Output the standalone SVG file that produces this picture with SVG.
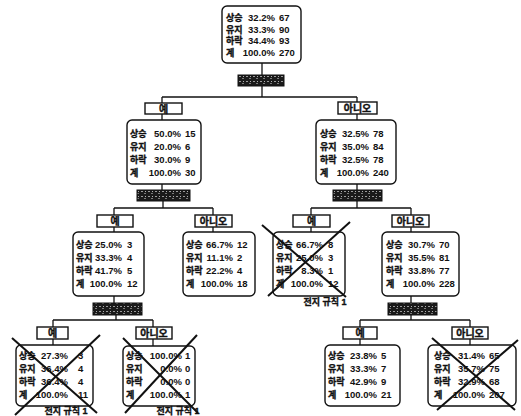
<svg xmlns="http://www.w3.org/2000/svg" width="521" height="416" viewBox="0 0 521 416">
  <defs>
    <!-- speckled fill for the split-rule bars -->
    <pattern id="speck" width="7" height="5" patternUnits="userSpaceOnUse">
      <rect width="7" height="5" fill="#1a1a1a"/>
      <rect x="1" y="1" width="2" height="1" fill="#9a9a9a"/>
      <rect x="4" y="3" width="2" height="1" fill="#7a7a7a"/>
      <rect x="5" y="1" width="1" height="1" fill="#b0b0b0"/>
    </pattern>
  </defs>
  <style>
    .node { fill: #fff; stroke: #111; stroke-width: 1.4; }
    .lbl { fill: #fff; stroke: #111; stroke-width: 1.4; }
    .bar { fill: url(#speck); stroke: #111; stroke-width: 1; }
    .t { font-family: "Liberation Sans", "Noto Sans CJK KR", sans-serif; font-weight: bold; fill: #111; }
    .n { font-size: 9.5px; }
    .k { font-size: 9px; stroke: #111; stroke-width: 0.35; }
    .b { font-size: 10px; text-anchor: middle; stroke: #111; stroke-width: 0.35; }
    .p { text-anchor: end; }
    .c { text-anchor: middle; }
    .conn line { stroke: #111; stroke-width: 1.3; }
    .x { stroke: #111; stroke-width: 2; }
  </style>
  <rect width="521" height="416" fill="#fff"/>

  <!-- connectors -->
  <g id="connectors" class="conn">
    <line x1="262" y1="63" x2="262" y2="75"/>
    <line x1="262" y1="86" x2="262" y2="97"/>
    <line x1="162" y1="97" x2="357" y2="97"/>
    <line x1="162" y1="97" x2="162" y2="103"/>
    <line x1="357" y1="97" x2="357" y2="102"/>
    <line x1="162" y1="114" x2="162" y2="120"/>
    <line x1="357" y1="114" x2="357" y2="120"/>
    <line x1="162" y1="184" x2="162" y2="190"/>
    <line x1="357" y1="184" x2="357" y2="190"/>
    <line x1="163" y1="201" x2="163" y2="208"/>
    <line x1="357" y1="201" x2="357" y2="208"/>
    <line x1="114" y1="208" x2="213" y2="208"/>
    <line x1="311" y1="208" x2="411" y2="208"/>
    <line x1="114" y1="208" x2="114" y2="215"/>
    <line x1="213" y1="208" x2="213" y2="215"/>
    <line x1="311" y1="208" x2="311" y2="215"/>
    <line x1="411" y1="208" x2="411" y2="215"/>
    <line x1="114" y1="227" x2="114" y2="232"/>
    <line x1="213" y1="227" x2="213" y2="232"/>
    <line x1="311" y1="227" x2="311" y2="232"/>
    <line x1="411" y1="227" x2="411" y2="232"/>
    <line x1="114" y1="296" x2="114" y2="303"/>
    <line x1="411" y1="296" x2="411" y2="303"/>
    <line x1="116" y1="315" x2="116" y2="320"/>
    <line x1="411" y1="315" x2="411" y2="320"/>
    <line x1="53" y1="320" x2="153" y2="320"/>
    <line x1="360" y1="320" x2="470" y2="320"/>
    <line x1="53" y1="320" x2="53" y2="327"/>
    <line x1="153" y1="320" x2="153" y2="327"/>
    <line x1="360" y1="320" x2="360" y2="327"/>
    <line x1="470" y1="320" x2="470" y2="327"/>
    <line x1="53" y1="339" x2="53" y2="345"/>
    <line x1="153" y1="339" x2="153" y2="346"/>
    <line x1="360" y1="339" x2="360" y2="345"/>
    <line x1="470" y1="339" x2="470" y2="345"/>
  </g>

  <!-- split-rule bars -->
  <g id="split-root"><rect class="bar" x="238" y="75" width="46" height="11"/></g>
  <g id="split-yes"><rect class="bar" x="137" y="190" width="53" height="11"/></g>
  <g id="split-no"><rect class="bar" x="333" y="190" width="49" height="11"/></g>
  <g id="split-yes-yes"><rect class="bar" x="93" y="303" width="49" height="12"/></g>
  <g id="split-no-no"><rect class="bar" x="388" y="303" width="49" height="12"/></g>

  <!-- branch labels -->
  <g id="lbl-yes"><rect class="lbl" x="145" y="103" width="37" height="11"/><text class="t b" x="163.5" y="112.5">예</text></g>
  <g id="lbl-no"><rect class="lbl" x="338" y="102" width="39" height="12"/><text class="t b" x="357.5" y="112">아니오</text></g>
  <g id="lbl-yes-yes"><rect class="lbl" x="97" y="215" width="36" height="12"/><text class="t b" x="115" y="225">예</text></g>
  <g id="lbl-yes-no"><rect class="lbl" x="195" y="215" width="37" height="12"/><text class="t b" x="213.5" y="225">아니오</text></g>
  <g id="lbl-no-yes"><rect class="lbl" x="293" y="215" width="37" height="12"/><text class="t b" x="311.5" y="225">예</text></g>
  <g id="lbl-no-no"><rect class="lbl" x="392" y="215" width="37" height="12"/><text class="t b" x="410.5" y="225">아니오</text></g>
  <g id="lbl-yy-yes"><rect class="lbl" x="37" y="327" width="31" height="12"/><text class="t b" x="52.5" y="337">예</text></g>
  <g id="lbl-yy-no"><rect class="lbl" x="136" y="327" width="36" height="12"/><text class="t b" x="154" y="337">아니오</text></g>
  <g id="lbl-nn-yes"><rect class="lbl" x="343" y="327" width="34" height="12"/><text class="t b" x="360" y="337">예</text></g>
  <g id="lbl-nn-no"><rect class="lbl" x="452" y="327" width="36" height="12"/><text class="t b" x="470" y="337">아니오</text></g>

  <!-- root -->
  <g id="node-root">
    <rect class="node" x="222" y="6" width="79" height="57" rx="5"/>
    <text class="t k" x="226" y="21">상승</text><text class="t n p" x="275" y="21">32.2%</text><text class="t n" x="279" y="21">67</text>
    <text class="t k" x="226" y="32.5">유지</text><text class="t n p" x="275" y="32.5">33.3%</text><text class="t n" x="279" y="32.5">90</text>
    <text class="t k" x="226" y="44">하락</text><text class="t n p" x="275" y="44">34.4%</text><text class="t n" x="279" y="44">93</text>
    <text class="t k" x="226" y="56">계</text><text class="t n p" x="275" y="56">100.0%</text><text class="t n" x="279" y="56">270</text>
  </g>

  <!-- level 1 -->
  <g id="node-yes">
    <rect class="node" x="127" y="120" width="74" height="64" rx="5"/>
    <text class="t k" x="130" y="137">상승</text><text class="t n p" x="181" y="137">50.0%</text><text class="t n" x="185" y="137">15</text>
    <text class="t k" x="130" y="150">유지</text><text class="t n p" x="181" y="150">20.0%</text><text class="t n" x="185" y="150">6</text>
    <text class="t k" x="130" y="163">하락</text><text class="t n p" x="181" y="163">30.0%</text><text class="t n" x="185" y="163">9</text>
    <text class="t k" x="130" y="176">계</text><text class="t n p" x="181" y="176">100.0%</text><text class="t n" x="185" y="176">30</text>
  </g>
  <g id="node-no">
    <rect class="node" x="316" y="120" width="80" height="64" rx="5"/>
    <text class="t k" x="320" y="137">상승</text><text class="t n p" x="369" y="137">32.5%</text><text class="t n" x="373" y="137">78</text>
    <text class="t k" x="320" y="150">유지</text><text class="t n p" x="369" y="150">35.0%</text><text class="t n" x="373" y="150">84</text>
    <text class="t k" x="320" y="163">하락</text><text class="t n p" x="369" y="163">32.5%</text><text class="t n" x="373" y="163">78</text>
    <text class="t k" x="320" y="176">계</text><text class="t n p" x="369" y="176">100.0%</text><text class="t n" x="373" y="176">240</text>
  </g>

  <!-- level 2 -->
  <g id="node-yes-yes">
    <rect class="node" x="73" y="232" width="71" height="64" rx="5"/>
    <text class="t k" x="76" y="248">상승</text><text class="t n p" x="122" y="248">25.0%</text><text class="t n" x="127" y="248">3</text>
    <text class="t k" x="76" y="261">유지</text><text class="t n p" x="122" y="261">33.3%</text><text class="t n" x="127" y="261">4</text>
    <text class="t k" x="76" y="274">하락</text><text class="t n p" x="122" y="274">41.7%</text><text class="t n" x="127" y="274">5</text>
    <text class="t k" x="76" y="287">계</text><text class="t n p" x="122" y="287">100.0%</text><text class="t n" x="127" y="287">12</text>
  </g>
  <g id="node-yes-no">
    <rect class="node" x="183" y="232" width="72" height="64" rx="5"/>
    <text class="t k" x="186" y="248">상승</text><text class="t n p" x="233" y="248">66.7%</text><text class="t n" x="237" y="248">12</text>
    <text class="t k" x="186" y="261">유지</text><text class="t n p" x="233" y="261">11.1%</text><text class="t n" x="237" y="261">2</text>
    <text class="t k" x="186" y="274">하락</text><text class="t n p" x="233" y="274">22.2%</text><text class="t n" x="237" y="274">4</text>
    <text class="t k" x="186" y="287">계</text><text class="t n p" x="233" y="287">100.0%</text><text class="t n" x="237" y="287">18</text>
  </g>
  <g id="node-no-yes">
    <rect class="node" x="273" y="232" width="72" height="64" rx="5"/>
    <text class="t k" x="276" y="248">상승</text><text class="t n p" x="323" y="248">66.7%</text><text class="t n" x="328" y="248">8</text>
    <text class="t k" x="276" y="261">유지</text><text class="t n p" x="323" y="261">25.0%</text><text class="t n" x="328" y="261">3</text>
    <text class="t k" x="276" y="274">하락</text><text class="t n p" x="323" y="274">8.3%</text><text class="t n" x="328" y="274">1</text>
    <text class="t k" x="276" y="287">계</text><text class="t n p" x="323" y="287">100.0%</text><text class="t n" x="328" y="287">12</text>
    <line class="x" x1="262" y1="225" x2="346" y2="297"/>
    <line class="x" x1="350" y1="222" x2="268" y2="296"/>
    <text class="t k c" x="325" y="305">전지 규칙 1</text>
  </g>
  <g id="node-no-no">
    <rect class="node" x="382" y="232" width="77" height="64" rx="5"/>
    <text class="t k" x="386" y="248">상승</text><text class="t n p" x="435" y="248">30.7%</text><text class="t n" x="439" y="248">70</text>
    <text class="t k" x="386" y="261">유지</text><text class="t n p" x="435" y="261">35.5%</text><text class="t n" x="439" y="261">81</text>
    <text class="t k" x="386" y="274">하락</text><text class="t n p" x="435" y="274">33.8%</text><text class="t n" x="439" y="274">77</text>
    <text class="t k" x="386" y="287">계</text><text class="t n p" x="435" y="287">100.0%</text><text class="t n" x="439" y="287">228</text>
  </g>

  <!-- level 3 -->
  <g id="node-yy-yes">
    <rect class="node" x="16" y="345" width="77" height="61" rx="5"/>
    <text class="t k" x="19" y="359">상승</text><text class="t n p" x="68" y="359">27.3%</text><text class="t n" x="78" y="359">3</text>
    <text class="t k" x="19" y="372">유지</text><text class="t n p" x="68" y="372">36.4%</text><text class="t n" x="78" y="372">4</text>
    <text class="t k" x="19" y="385">하락</text><text class="t n p" x="68" y="385">36.4%</text><text class="t n" x="78" y="385">4</text>
    <text class="t k" x="19" y="398">계</text><text class="t n p" x="68" y="398">100.0%</text><text class="t n" x="78" y="398">11</text>
    <line class="x" x1="12" y1="338" x2="97" y2="413"/>
    <line class="x" x1="100" y1="335" x2="15" y2="415"/>
    <text class="t k c" x="66" y="414">전지 규칙 1</text>
  </g>
  <g id="node-yy-no">
    <rect class="node" x="123" y="346" width="72" height="60" rx="5"/>
    <text class="t k" x="126" y="359">상승</text><text class="t n p" x="182" y="359">100.0%</text><text class="t n" x="185" y="359">1</text>
    <text class="t k" x="126" y="372">유지</text><text class="t n p" x="182" y="372">0.0%</text><text class="t n" x="185" y="372">0</text>
    <text class="t k" x="126" y="385">하락</text><text class="t n p" x="182" y="385">0.0%</text><text class="t n" x="185" y="385">0</text>
    <text class="t k" x="126" y="398">계</text><text class="t n p" x="182" y="398">100.0%</text><text class="t n" x="185" y="398">1</text>
    <line class="x" x1="123" y1="338" x2="198" y2="413"/>
    <line class="x" x1="197" y1="335" x2="125" y2="413"/>
    <text class="t k c" x="178" y="414">전지 규칙 1</text>
  </g>
  <g id="node-nn-yes">
    <rect class="node" x="325" y="345" width="75" height="61" rx="5"/>
    <text class="t k" x="328" y="359">상승</text><text class="t n p" x="377" y="359">23.8%</text><text class="t n" x="381" y="359">5</text>
    <text class="t k" x="328" y="372">유지</text><text class="t n p" x="377" y="372">33.3%</text><text class="t n" x="381" y="372">7</text>
    <text class="t k" x="328" y="385">하락</text><text class="t n p" x="377" y="385">42.9%</text><text class="t n" x="381" y="385">9</text>
    <text class="t k" x="328" y="398">계</text><text class="t n p" x="377" y="398">100.0%</text><text class="t n" x="381" y="398">21</text>
  </g>
  <g id="node-nn-no">
    <rect class="node" x="428" y="345" width="88" height="61" rx="5"/>
    <text class="t k" x="434" y="359">상승</text><text class="t n p" x="485" y="359">31.4%</text><text class="t n" x="489" y="359">65</text>
    <text class="t k" x="434" y="372">유지</text><text class="t n p" x="485" y="372">35.7%</text><text class="t n" x="489" y="372">75</text>
    <text class="t k" x="434" y="385">하락</text><text class="t n p" x="485" y="385">32.9%</text><text class="t n" x="489" y="385">68</text>
    <text class="t k" x="434" y="398">계</text><text class="t n p" x="485" y="398">100.0%</text><text class="t n" x="489" y="398">207</text>
    <line class="x" x1="432" y1="338" x2="515" y2="410"/>
    <line class="x" x1="518" y1="340" x2="437" y2="410"/>
  </g>
</svg>
